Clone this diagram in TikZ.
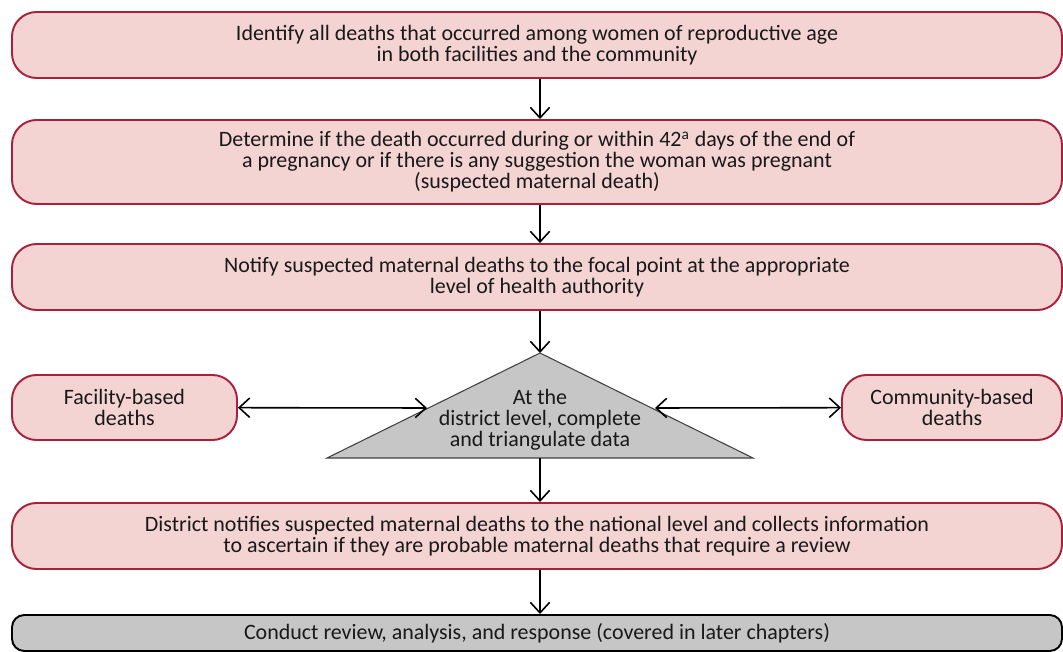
\documentclass[tikz,border=0pt]{standalone}
\usepackage{fontspec}
\setmainfont{Carlito}
\usetikzlibrary{arrows.meta}
\definecolor{boxfill}{HTML}{F4D3D3}
\definecolor{boxline}{HTML}{A8203A}
\definecolor{greyfill}{HTML}{C6C6C6}

\begin{document}
\begin{tikzpicture}[x=0.02cm, y=-0.02cm]
        % Define styles
        \tikzset{
            step box/.style={rectangle, rounded corners=14pt, draw=boxline, fill=boxfill, line width=1.1pt, align=center, font=\fontsize{12.5}{12}\selectfont, text=black!90, inner sep=0pt},
            final box/.style={rectangle, rounded corners=7pt, draw=black, fill=greyfill, line width=1.1pt, align=center, font=\fontsize{12.5}{12}\selectfont, text=black!90, inner sep=0pt},
            arrow/.style={-{Straight Barb[length=6pt,width=11pt]}, line width=0.9pt},
            twoway/.style={{Straight Barb[length=6pt,width=11pt]}-{Straight Barb[length=6pt,width=11pt]}, line width=0.9pt}
        }
        \useasboundingbox (0,0) rectangle (1063,652);

        % Nodes
        \node[step box, minimum width=1050*0.02cm, minimum height=66*0.02cm] (identify) at (537,45) {Identify all deaths that occurred among women of reproductive age\\ in both facilities and the community};
        \node[step box, minimum width=1050*0.02cm, minimum height=84*0.02cm] (determine) at (537,162) {Determine if the death occurred during or within 42\textsuperscript{a} days of the end of\\ a pregnancy or if there is any suggestion the woman was pregnant\\ (suspected maternal death)};
        \node[step box, minimum width=1050*0.02cm, minimum height=66*0.02cm] (notify) at (537,277) {Notify suspected maternal deaths to the focal point at the appropriate\\ level of health authority};
        \node[step box, minimum width=225*0.02cm, minimum height=65*0.02cm] (facility) at (124.5,407.5) {Facility-based\\ deaths};
        \node[step box, minimum width=220*0.02cm, minimum height=65*0.02cm] (community) at (952,407.5) {Community-based\\ deaths};
        \node[step box, minimum width=1050*0.02cm, minimum height=66*0.02cm] (district) at (537,536) {District notifies suspected maternal deaths to the national level and collects information\\ to ascertain if they are probable maternal deaths that require a review};
        \node[final box, minimum width=1050*0.02cm, minimum height=36*0.02cm] (review) at (537,633) {Conduct review, analysis, and response (covered in later chapters)};

        % Triangle
        \coordinate (triTop) at (540,353);
        \coordinate (triL) at (327,458);
        \coordinate (triR) at (753,458);
        \coordinate (triS) at (540,458);
        \coordinate (triW) at (427,408);
        \coordinate (triE) at (655,408);
        \filldraw[fill=greyfill, draw=black!75, line width=0.6pt] (triTop) -- (triR) -- (triL) -- cycle;
        \node[align=center, font=\fontsize{12.5}{12}\selectfont, text=black!90] (triText) at (540,420) {At the\\ district level, complete\\ and triangulate data};

        % Arrows
        \draw[arrow] (identify.south -| triTop) -- (determine.north -| triTop);
        \draw[arrow] (determine.south -| triTop) -- (notify.north -| triTop);
        \draw[arrow] (notify.south -| triTop) -- (triTop);
        \draw[twoway] (facility) -- (triW);
        \draw[twoway] (community) -- (triE);
        \draw[arrow] (triS) -- (district.north -| triS);
        \draw[arrow] (district.south -| triS) -- (review.north -| triS);
    \end{tikzpicture}
\end{document}
